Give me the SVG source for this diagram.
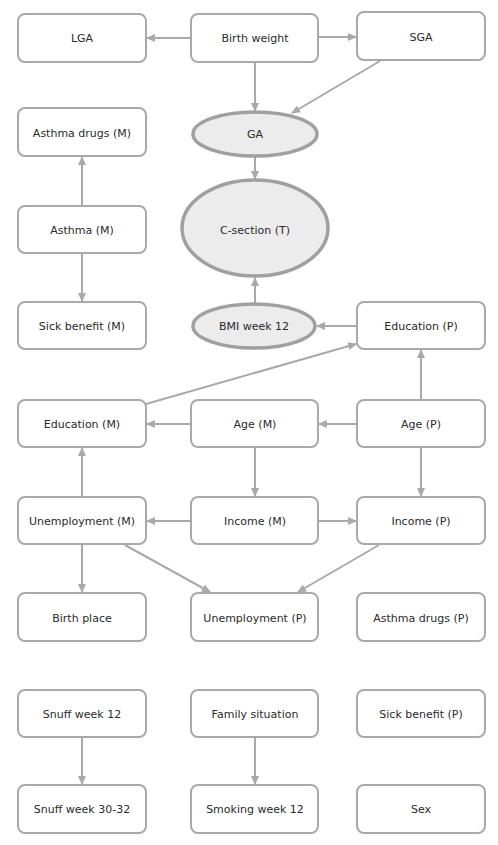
<svg xmlns="http://www.w3.org/2000/svg" width="498" height="845" viewBox="0 0 498 845">
<defs>
<style>
.box{fill:#fff;stroke:#a9a9a9;stroke-width:2}
.ell{fill:#ececec;stroke:#a0a0a0;stroke-width:3.5}
text{font-family:"DejaVu Sans","Liberation Sans",sans-serif;font-size:11px;fill:#2a2a2a;text-anchor:middle}
.c line{stroke:#a9a9a9;stroke-width:2;fill:none;marker-end:url(#ah)}
</style>
<marker id="ah" markerUnits="userSpaceOnUse" markerWidth="9" markerHeight="8" refX="8" refY="4" orient="auto">
<path d="M0,0 L9,4 L0,8 Z" fill="#a9a9a9"/>
</marker>
</defs>
<rect width="498" height="845" fill="#fff"/>
<g class="c" id="connectors">
<line x1="191" y1="38" x2="147" y2="38"/>
<line x1="318" y1="37" x2="356" y2="37"/>
<line x1="255" y1="62" x2="255" y2="111"/>
<line x1="380" y1="61" x2="292" y2="113"/>
<line x1="255" y1="157" x2="255" y2="179"/>
<line x1="82" y1="206" x2="82" y2="157"/>
<line x1="82" y1="253" x2="82" y2="301"/>
<line x1="255" y1="303" x2="255" y2="278"/>
<line x1="357" y1="326" x2="317" y2="326"/>
<line x1="146" y1="404" x2="356" y2="344"/>
<line x1="421" y1="400" x2="421" y2="350"/>
<line x1="191" y1="424" x2="147" y2="424"/>
<line x1="357" y1="424" x2="319" y2="424"/>
<line x1="255" y1="447" x2="255" y2="496"/>
<line x1="421" y1="447" x2="421" y2="496"/>
<line x1="191" y1="521" x2="147" y2="521"/>
<line x1="318" y1="521" x2="356" y2="521"/>
<line x1="82" y1="497" x2="82" y2="448"/>
<line x1="82" y1="544" x2="82" y2="592"/>
<line x1="125" y1="545" x2="210" y2="592"/>
<line x1="379" y1="545" x2="298" y2="592"/>
<line x1="82" y1="737" x2="82" y2="784"/>
<line x1="255" y1="737" x2="255" y2="784"/>
</g>
<g id="lga"><rect class="box" x="18" y="14" width="128" height="48" rx="7"/><text x="82" y="42">LGA</text></g>
<g id="birthweight"><rect class="box" x="191" y="14" width="127" height="48" rx="7"/><text x="255" y="42">Birth weight</text></g>
<g id="sga"><rect class="box" x="357" y="12" width="128" height="48" rx="7"/><text x="421" y="41">SGA</text></g>
<g id="asthmadrugsm"><rect class="box" x="18" y="108" width="128" height="48" rx="7"/><text x="82" y="137">Asthma drugs (M)</text></g>
<g id="ga"><ellipse class="ell" cx="255" cy="134" rx="62" ry="22"/><text x="255" y="138">GA</text></g>
<g id="asthmam"><rect class="box" x="18" y="206" width="128" height="47" rx="7"/><text x="82" y="234">Asthma (M)</text></g>
<g id="csection"><ellipse class="ell" cx="255" cy="228" rx="73" ry="48"/><text x="255" y="234">C-section (T)</text></g>
<g id="sickbenefitm"><rect class="box" x="18" y="302" width="128" height="47" rx="7"/><text x="82" y="330">Sick benefit (M)</text></g>
<g id="bmi"><ellipse class="ell" cx="254" cy="326" rx="61" ry="22"/><text x="254" y="330">BMI week 12</text></g>
<g id="educationp"><rect class="box" x="357" y="302" width="128" height="47" rx="7"/><text x="421" y="330">Education (P)</text></g>
<g id="educationm"><rect class="box" x="18" y="400" width="128" height="47" rx="7"/><text x="82" y="428">Education (M)</text></g>
<g id="agem"><rect class="box" x="191" y="400" width="127" height="47" rx="7"/><text x="255" y="428">Age (M)</text></g>
<g id="agep"><rect class="box" x="357" y="400" width="128" height="47" rx="7"/><text x="421" y="428">Age (P)</text></g>
<g id="unemploymentm"><rect class="box" x="18" y="497" width="128" height="47" rx="7"/><text x="82" y="525">Unemployment (M)</text></g>
<g id="incomem"><rect class="box" x="191" y="497" width="127" height="47" rx="7"/><text x="255" y="525">Income (M)</text></g>
<g id="incomep"><rect class="box" x="357" y="497" width="128" height="47" rx="7"/><text x="421" y="525">Income (P)</text></g>
<g id="birthplace"><rect class="box" x="18" y="593" width="128" height="48" rx="7"/><text x="82" y="622">Birth place</text></g>
<g id="unemploymentp"><rect class="box" x="191" y="593" width="127" height="48" rx="7"/><text x="255" y="622">Unemployment (P)</text></g>
<g id="asthmadrugsp"><rect class="box" x="357" y="593" width="128" height="48" rx="7"/><text x="421" y="622">Asthma drugs (P)</text></g>
<g id="snuff12"><rect class="box" x="18" y="690" width="128" height="47" rx="7"/><text x="82" y="718">Snuff week 12</text></g>
<g id="family"><rect class="box" x="191" y="690" width="127" height="47" rx="7"/><text x="255" y="718">Family situation</text></g>
<g id="sickbenefitp"><rect class="box" x="357" y="690" width="128" height="47" rx="7"/><text x="421" y="718">Sick benefit (P)</text></g>
<g id="snuff3032"><rect class="box" x="18" y="785" width="128" height="48" rx="7"/><text x="82" y="813">Snuff week 30-32</text></g>
<g id="smoking12"><rect class="box" x="191" y="785" width="127" height="48" rx="7"/><text x="255" y="813">Smoking week 12</text></g>
<g id="sex"><rect class="box" x="357" y="785" width="128" height="48" rx="7"/><text x="421" y="813">Sex</text></g>
</svg>
